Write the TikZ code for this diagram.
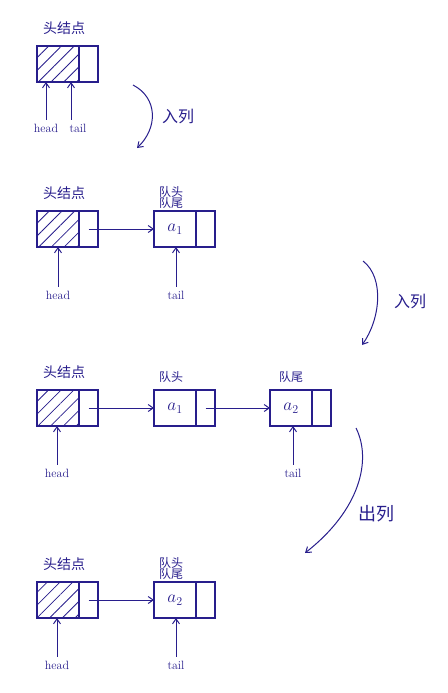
\documentclass[tikz,border=0pt]{standalone}
\usepackage{fontspec}
\newfontfamily\cjk{Noto Sans CJK SC}
\usetikzlibrary{arrows.meta, positioning, patterns.meta}
\definecolor{ink}{RGB}{40,30,140}

\begin{document}
\begin{tikzpicture}[x=1pt, y=-1pt,
  datacell/.style={rectangle, draw=ink, line width=1.1pt, minimum width=42pt,
                   minimum height=36pt, inner sep=0pt, outer sep=0pt, font=\LARGE, text=ink},
  ptrcell/.style={rectangle, draw=ink, line width=1.1pt, minimum width=19pt,
                  minimum height=36pt, inner sep=0pt, outer sep=0pt},
  hatched/.style={datacell, pattern={Lines[angle=45, distance=9pt, line width=0.8pt]},
                  pattern color=ink},
  cn/.style={font=\cjk\fontsize{12}{13}\selectfont, text=ink, align=center, inner sep=1pt},
  cnhead/.style={cn, font=\cjk\fontsize{14}{15}\selectfont},
  cnop/.style={cn, font=\cjk\fontsize{16}{17}\selectfont},
  lbl/.style={font=\large, text=ink, inner sep=1pt},
  arr/.style={-{Straight Barb[length=5pt, width=7pt]}, draw=ink, line width=1pt},
  node distance=0pt
]
  \useasboundingbox (0,0) rectangle (447,693);

  % empty queue
  \node[hatched] (h1a) at (58,64) {};
  \node[ptrcell, right=of h1a] (h1n) {};
  \node[cnhead, above=10pt of h1a, xshift=6pt] {头结点};
  \node[lbl] (hd1) at (46,128) {head};
  \node[lbl] (tl1) at (78,128) {tail};
  \draw[arr, shorten <=3pt] (hd1.north) -- (hd1.north |- h1a.south);
  \draw[arr, shorten <=3pt] (tl1.north -| 71,0) -- (71,0 |- h1a.south);

  \coordinate (s1) at (133,85);
  \coordinate (e1) at (137,148);
  \draw[arr] (s1) .. controls (158,98) and (158,128) .. (e1);
  \node[cnop] at (178,116) {入列};

  % enqueue a1
  \node[hatched] (h2a) at (58,229) {};
  \node[ptrcell, right=of h2a] (h2n) {};
  \node[cnhead, above=10pt of h2a, xshift=6pt] {头结点};
  \node[datacell] (a1a) at (175,229) {$a_1$};
  \node[ptrcell, right=of a1a] (a1n) {};
  \node[cn, above=1pt of a1a, xshift=-4pt] {队头\\[-2pt]队尾};
  \draw[arr] (h2n.center) -- (a1a.west);
  \node[lbl] (hd2) at (58,295) {head};
  \node[lbl] (tl2) at (176,295) {tail};
  \draw[arr, shorten <=3pt] (hd2.north) -- (hd2.north |- h2a.south);
  \draw[arr, shorten <=3pt] (tl2.north) -- (tl2.north |- a1a.south);

  \coordinate (s2) at (363,261);
  \coordinate (e2) at (362,345);
  \draw[arr] (s2) .. controls (385,278) and (380,320) .. (e2);
  \node[cnop] at (410,301) {入列};

  % enqueue a2
  \node[hatched] (h3a) at (58,408) {};
  \node[ptrcell, right=of h3a] (h3n) {};
  \node[cnhead, above=10pt of h3a, xshift=6pt] {头结点};
  \node[datacell] (a1b) at (175,408) {$a_1$};
  \node[ptrcell, right=of a1b] (a1m) {};
  \node[cn, above=6pt of a1b, xshift=-4pt] {队头};
  \node[datacell] (a2b) at (291,408) {$a_2$};
  \node[ptrcell, right=of a2b] (a2m) {};
  \node[cn, above=6pt of a2b] {队尾};
  \draw[arr] (h3n.center) -- (a1b.west);
  \draw[arr] (a1m.center) -- (a2b.west);
  \node[lbl] (hd3) at (57,473) {head};
  \node[lbl] (tl3) at (293,473) {tail};
  \draw[arr, shorten <=3pt] (hd3.north) -- (hd3.north |- h3a.south);
  \draw[arr, shorten <=3pt] (tl3.north) -- (tl3.north |- a2b.south);

  \coordinate (s3) at (356,428);
  \coordinate (e3) at (305,553);
  \draw[arr] (s3) .. controls (372,460) and (360,510) .. (e3);
  \node[cnop, font=\cjk\fontsize{18}{19}\selectfont] at (376,514) {出列};

  % dequeue a1
  \node[hatched] (h4a) at (58,600) {};
  \node[ptrcell, right=of h4a] (h4n) {};
  \node[cnhead, above=10pt of h4a, xshift=6pt] {头结点};
  \node[datacell] (a2c) at (175,600) {$a_2$};
  \node[ptrcell, right=of a2c] (a2n) {};
  \node[cn, above=1pt of a2c, xshift=-4pt] {队头\\[-2pt]队尾};
  \draw[arr] (h4n.center) -- (a2c.west);
  \node[lbl] (hd4) at (57,665) {head};
  \node[lbl] (tl4) at (176,665) {tail};
  \draw[arr, shorten <=3pt] (hd4.north) -- (hd4.north |- h4a.south);
  \draw[arr, shorten <=3pt] (tl4.north) -- (tl4.north |- a2c.south);
\end{tikzpicture}
\end{document}
